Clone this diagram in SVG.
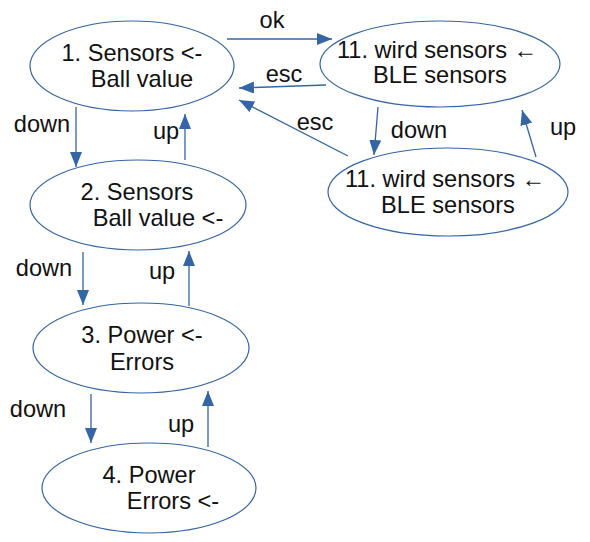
<svg xmlns="http://www.w3.org/2000/svg" width="590" height="542" viewBox="0 0 590 542">
<style>
.node ellipse{fill:#ffffff;stroke:#3465a4;stroke-width:1.2}
text{font-family:"Liberation Sans",Arial,sans-serif;font-size:23.6px;fill:#111111;text-anchor:middle}
.edge line{stroke:#3465a4;stroke-width:1.3;marker-end:url(#ah)}
</style>
<defs>
<marker id="ah" markerUnits="userSpaceOnUse" markerWidth="16" markerHeight="12" refX="15" refY="6" orient="auto">
<path d="M0,0 L15,6 L0,12 z" fill="#3465a4"/>
</marker>
</defs>
<rect width="590" height="542" fill="#ffffff"/>
<g id="connectors" class="edge">
<line x1="227" y1="39" x2="332" y2="39"/>
<line x1="326" y1="85" x2="239" y2="88"/>
<line x1="348" y1="156" x2="239" y2="100"/>
<line x1="378" y1="107" x2="374" y2="155"/>
<line x1="536" y1="157" x2="522" y2="110"/>
<line x1="76" y1="107" x2="76" y2="167"/>
<line x1="185" y1="160" x2="185" y2="114"/>
<line x1="83" y1="252" x2="83" y2="305"/>
<line x1="189" y1="306" x2="189" y2="251"/>
<line x1="91" y1="394" x2="91" y2="443"/>
<line x1="208" y1="447" x2="208" y2="391"/>
</g>
<g id="edge-labels">
<text x="272" y="28">ok</text>
<text x="284" y="82">esc</text>
<text x="315" y="130">esc</text>
<text x="419" y="138">down</text>
<text x="563" y="135">up</text>
<text x="42" y="132">down</text>
<text x="166" y="139">up</text>
<text x="44" y="276">down</text>
<text x="162" y="279">up</text>
<text x="38" y="417">down</text>
<text x="181" y="432">up</text>
</g>
<g id="n1" class="node">
<ellipse cx="132" cy="66" rx="102" ry="45"/>
<text x="132" y="61">1. Sensors &lt;-</text>
<text x="142" y="87">Ball value</text>
</g>
<g id="n2" class="node">
<ellipse cx="138" cy="205" rx="108" ry="45"/>
<text x="137" y="200">2. Sensors</text>
<text x="158" y="226">Ball value &lt;-</text>
</g>
<g id="n3" class="node">
<ellipse cx="141" cy="348" rx="108" ry="45"/>
<text x="142" y="343">3. Power &lt;-</text>
<text x="142" y="370">Errors</text>
</g>
<g id="n4" class="node">
<ellipse cx="149" cy="488" rx="107" ry="45"/>
<text x="149" y="483">4. Power</text>
<text x="173" y="509">Errors &lt;-</text>
</g>
<g id="n11a" class="node">
<ellipse cx="440" cy="64" rx="120" ry="43"/>
<text x="437" y="58">11. wird sensors ←</text>
<text x="440" y="83">BLE sensors</text>
</g>
<g id="n11b" class="node">
<ellipse cx="448" cy="192" rx="120" ry="44"/>
<text x="445" y="187">11. wird sensors ←</text>
<text x="448" y="213">BLE sensors</text>
</g>
</svg>
